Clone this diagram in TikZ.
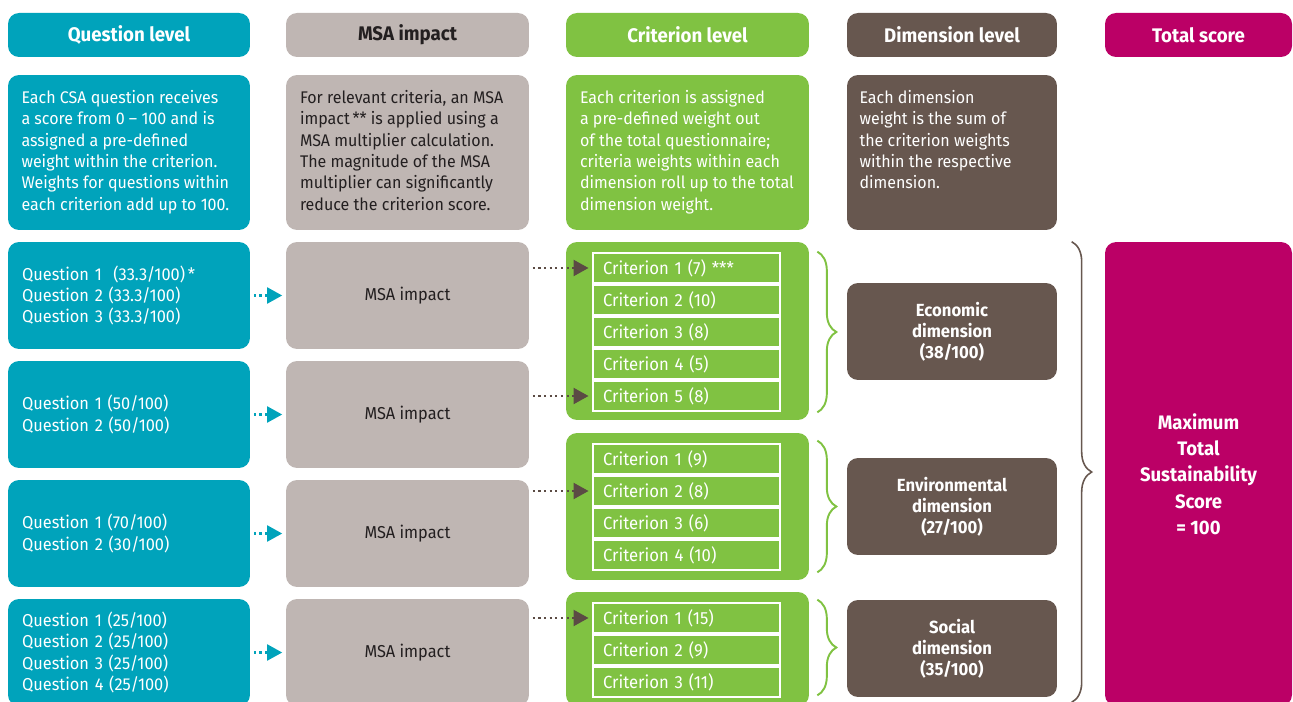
\documentclass[tikz,border=0pt]{standalone}
\usepackage{fontspec}
\setmainfont{Fira Sans}[FakeStretch=0.95]
\usetikzlibrary{positioning, arrows.meta, decorations.pathreplacing}

\definecolor{qteal}{HTML}{00A3BB}
\definecolor{msagrey}{HTML}{BFB6B3}
\definecolor{critgreen}{HTML}{80C242}
\definecolor{dimbrown}{HTML}{67574F}
\definecolor{totalmag}{HTML}{BB0066}
\definecolor{darktext}{HTML}{231F20}
\definecolor{dotbrown}{HTML}{5B4B44}

\newcommand{\desctext}[1]{\hspace*{0.2cm}\parbox[c][2.5cm][t]{4.5cm}{\raggedright #1}}

\tikzset{
  box/.style={rounded corners=0.22cm, inner sep=0pt},
  headbox/.style={box, minimum height=0.88cm, text=white,
                  font=\fontsize{11.2}{12}\selectfont\bfseries},
  descbox/.style={box, minimum height=3.1cm, minimum width=4.86cm, text=white,
                  font=\fontsize{9.6}{12.2}\selectfont},
  quesbox/.style={box, fill=qteal, text=white, minimum height=2.14cm,
                  text width=4.28cm, inner xsep=0.28cm, align=left,
                  font=\fontsize{9.8}{12.2}\selectfont},
  msabox/.style={box, fill=msagrey, text=darktext, minimum height=2.14cm,
                 minimum width=4.86cm, font=\fontsize{9.8}{12.2}\selectfont},
  groupbox/.style={box, fill=critgreen, minimum width=4.86cm},
  critbox/.style={draw=white, line width=1.1pt, text=white, minimum width=3.74cm,
                  minimum height=0.52cm, text width=3.34cm, inner xsep=0.2cm,
                  align=left, font=\fontsize{10}{12}\selectfont},
  dimbox/.style={box, fill=dimbrown, text=white, minimum width=4.2cm,
                 minimum height=1.94cm, align=center,
                 font=\fontsize{10}{12}\selectfont\bfseries},
  qarrow/.style={qteal, line width=1.2pt, dash pattern=on 1.2pt off 2pt,
                 shorten <=2pt, shorten >=2pt,
                 -{Triangle[length=0.3cm, width=0.32cm, sep=0pt]}},
  marrow/.style={dotbrown, line width=1.2pt, dash pattern=on 1.2pt off 2pt,
                 shorten <=2pt, shorten >=2pt,
                 -{Triangle[length=0.3cm, width=0.32cm]}},
  gbrace/.style={critgreen, line width=1.1pt, decorate,
                 decoration={brace, amplitude=0.38cm}},
  tbrace/.style={dimbrown, line width=0.9pt, decorate,
                 decoration={brace, amplitude=0.4cm}}
}

\begin{document}
\begin{tikzpicture}[x=0.02cm, y=-0.02cm]
  \useasboundingbox (0,0) rectangle (1293,702);

  % column headers
  \node[headbox, fill=qteal, minimum width=4.84cm] (hq) at (129,35) {Question level};
  \node[headbox, fill=msagrey, text=darktext, minimum width=4.86cm] (hm) at (407.5,35) {MSA impact};
  \node[headbox, fill=critgreen, minimum width=4.86cm] (hc) at (687.5,35) {Criterion level};
  \node[headbox, fill=dimbrown, minimum width=4.2cm] (hd) at (952,35) {Dimension level};
  \node[headbox, fill=totalmag, minimum width=3.74cm] (ht) at (1198.5,35) {Total score};

  % descriptions
  \node[descbox, fill=qteal, minimum width=4.84cm] (dq) at (129,152.5)
    {\desctext{Each CSA question receives\\ a score from 0 -- 100 and is\\ assigned a pre-defined\\
     weight within the criterion.\\ Weights for questions within\\ each criterion add up to 100.}};
  \node[descbox, fill=msagrey, text=darktext] (dm) at (407.5,152.5)
    {\desctext{For relevant criteria, an MSA\\ impact\,** is applied using a\\ MSA multiplier calculation.\\
     The magnitude of the MSA\\ multiplier can significantly\\ reduce the criterion score.}};
  \node[descbox, fill=critgreen] (dc) at (687.5,152.5)
    {\desctext{Each criterion is assigned\\ a pre-defined weight out\\ of the total questionnaire;\\
     criteria weights within each\\ dimension roll up to the total\\ dimension weight.}};
  \node[descbox, fill=dimbrown, minimum width=4.2cm] (dd) at (952,152.5)
    {\parbox[c][2.5cm][t]{3.7cm}{\raggedright Each dimension\\ weight is the sum of\\ the criterion weights\\
     within the respective\\ dimension.}};

  % question level
  \node[quesbox] (q1) at (129,295.5) {Question 1\ \ (33.3/100)\,*\\ Question 2 (33.3/100)\\ Question 3 (33.3/100)};
  \node[quesbox] (q2) at (129,414.5) {Question 1 (50/100)\\ Question 2 (50/100)};
  \node[quesbox] (q3) at (129,533.5) {Question 1 (70/100)\\ Question 2 (30/100)};
  \node[quesbox] (q4) at (129,652.5) {Question 1 (25/100)\\ Question 2 (25/100)\\ Question 3 (25/100)\\ Question 4 (25/100)};

  % MSA impact
  \node[msabox] (m1) at (407.5,295.5) {MSA impact};
  \node[msabox] (m2) at (407.5,414.5) {MSA impact};
  \node[msabox] (m3) at (407.5,533.5) {MSA impact};
  \node[msabox] (m4) at (407.5,652.5) {MSA impact};

  % criterion groups
  \node[groupbox, minimum height=3.56cm] (g1) at (687.5,331) {};
  \node[groupbox, minimum height=2.94cm] (g2) at (687.5,506.5) {};
  \node[groupbox, minimum height=2.28cm] (g3) at (687.5,649) {};

  \foreach \lbl [count=\i] in {Criterion 1 (7) ***, Criterion 2 (10), Criterion 3 (8),
                               Criterion 4 (5), Criterion 5 (8)}
    \node[critbox] (c1-\i) at (686.5,{236+32*\i}) {\lbl};
  \foreach \lbl [count=\i] in {Criterion 1 (9), Criterion 2 (8), Criterion 3 (6), Criterion 4 (10)}
    \node[critbox] (c2-\i) at (686.5,{427+32*\i}) {\lbl};
  \foreach \lbl [count=\i] in {Criterion 1 (15), Criterion 2 (9), Criterion 3 (11)}
    \node[critbox] (c3-\i) at (686.5,{586+32*\i}) {\lbl};

  % dimensions
  \node[dimbox] (econ) at (952,331.5) {Economic\\ dimension\\ (38/100)};
  \node[dimbox] (env) at (952,506.5) {Environmental\\ dimension\\ (27/100)};
  \node[dimbox] (soc) at (952,648.5) {Social\\ dimension\\ (35/100)};

  % total
  \node[box, fill=totalmag, text=white, minimum width=3.74cm, minimum height=9.28cm,
        align=center, font=\fontsize{11.1}{15}\selectfont\bfseries] (tot) at (1198.5,474)
    {Maximum\\ Total\\ Sustainability\\ Score\\ = 100};

  % arrows
  \draw[qarrow] (q1.east) -- (m1.west);
  \draw[qarrow] (q2.east) -- (m2.west);
  \draw[qarrow] (q3.east) -- (m3.west);
  \draw[qarrow] (q4.east) -- (m4.west);

  \draw[marrow] (m1.east |- c1-1.west) -- (c1-1.west);
  \draw[marrow] (m2.east |- c1-5.west) -- (c1-5.west);
  \draw[marrow] (m3.east |- c2-2.west) -- (c2-2.west);
  \draw[marrow] (m4.east |- c3-1.west) -- (c3-1.west);

  % braces
  \draw[gbrace] ([shift={(8,10)}]g1.north east) -- ([shift={(8,-8)}]g1.south east);
  \draw[gbrace] ([shift={(8,8)}]g2.north east) -- ([shift={(8,-8)}]g2.south east);
  \draw[gbrace] ([shift={(8,8)}]g3.north east) -- ([shift={(8,-11)}]g3.south east);
  \draw[tbrace] ([shift={(-33,0)}]tot.north west) -- ([shift={(-33,-4)}]tot.south west);
\end{tikzpicture}
\end{document}
